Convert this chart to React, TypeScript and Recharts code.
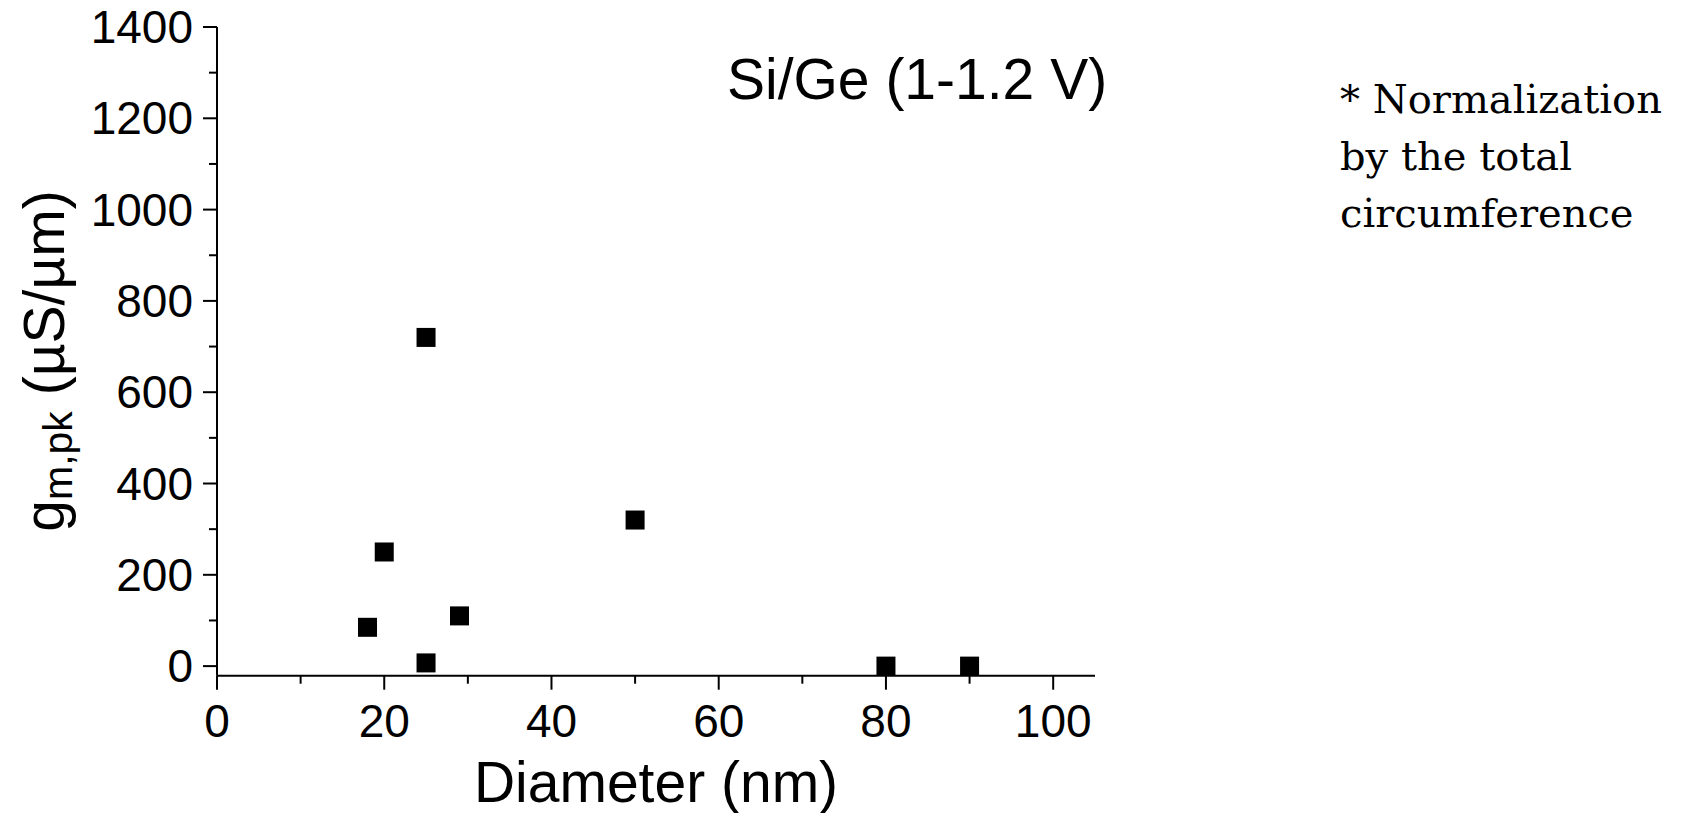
import React from "react";
import { ScatterChart, Scatter, XAxis, YAxis } from "recharts";

// ─── Data ──────────────────────────────────────────────────────────

const diameterNm = [18, 20, 25, 25, 29, 50, 80, 90];
const gmPeak = [85, 250, 720, 7, 110, 320, 0, 0];

const xTicks = [0, 10, 20, 30, 40, 50, 60, 70, 80, 90, 100];
const yTicks = [0, 100, 200, 300, 400, 500, 600, 700, 800, 900, 1000, 1100, 1200, 1300, 1400];

const titleText = "Si/Ge (1-1.2 V)";
const noteLines = ["* Normalization", "by the total", "circumference"];

const points = diameterNm.map((d, i) => ({ d, g: gmPeak[i] }));

const SANS = "'Liberation Sans', Arial, sans-serif";

// ─── Ticks (major + minor) ─────────────────────────────────────────

function YTick(props: any) {
  const { x, y, payload } = props;
  const major = payload.value % 200 === 0;
  return (
    <g>
      <line x1={x} x2={x - (major ? 14 : 8)} y1={y} y2={y} stroke="#000" strokeWidth={2} />
      {major && (
        <text x={x - 24} y={y + 16} textAnchor="end" fontFamily={SANS} fontSize={46} fill="#000">
          {payload.value}
        </text>
      )}
    </g>
  );
}

function XTick(props: any) {
  const { x, y, payload } = props;
  const major = payload.value % 20 === 0;
  return (
    <g>
      <line x1={x} x2={x} y1={y} y2={y + (major ? 14 : 8)} stroke="#000" strokeWidth={2} />
      {major && (
        <text x={x} y={y + 61} textAnchor="middle" fontFamily={SANS} fontSize={46} fill="#000">
          {payload.value}
        </text>
      )}
    </g>
  );
}

// ─── Axis titles ───────────────────────────────────────────────────

function YTitle(props: any) {
  const vb = props.viewBox || { x: 0, y: 0, width: 0, height: 0 };
  const cx = vb.x - 3;
  const cy = 361;
  return (
    <text
      x={cx}
      y={cy}
      transform={`rotate(-90, ${cx}, ${cy})`}
      textAnchor="middle"
      fontFamily={SANS}
      fontSize={57}
      fill="#000"
    >
      <tspan>g</tspan>
      <tspan fontSize={41} dy={8}>m,pk</tspan>
      <tspan dy={-8}> (µS/µm)</tspan>
    </text>
  );
}

function XTitle(props: any) {
  const vb = props.viewBox || { x: 0, y: 0, width: 0, height: 0 };
  return (
    <text
      x={vb.x + vb.width / 2}
      y={vb.y + 126}
      textAnchor="middle"
      fontFamily={SANS}
      fontSize={57}
      fill="#000"
    >
      Diameter (nm)
    </text>
  );
}

function Square(props: any) {
  const { cx, cy } = props;
  return <rect x={cx - 9.5} y={cy - 9.5} width={19} height={19} fill="#000" />;
}

// ─── App ───────────────────────────────────────────────────────────

export default function App() {
  return (
    <div style={{ position: "absolute", left: 0, top: 0, width: 1691, height: 813, background: "#fff" }}>
      <ScatterChart
        width={1691}
        height={813}
        margin={{ top: 27, right: 596, bottom: 57.3, left: 67 }}
      >
        <XAxis
          type="number"
          dataKey="d"
          domain={[0, 105]}
          ticks={xTicks}
          interval={0}
          allowDataOverflow
          height={80}
          axisLine={{ stroke: "#000", strokeWidth: 2 }}
          tickLine={false}
          tickSize={0}
          tickMargin={0}
          tick={<XTick />}
          label={<XTitle />}
        />
        <YAxis
          type="number"
          dataKey="g"
          domain={[-21, 1400]}
          ticks={yTicks}
          interval={0}
          allowDataOverflow
          width={150}
          axisLine={{ stroke: "#000", strokeWidth: 2 }}
          tickLine={false}
          tickSize={0}
          tickMargin={0}
          tick={<YTick />}
          label={<YTitle />}
        />
        <Scatter data={points} shape={<Square />} isAnimationActive={false} />
      </ScatterChart>
      <svg
        width={1691}
        height={813}
        style={{ position: "absolute", left: 0, top: 0, pointerEvents: "none" }}
      >
        <text x={727} y={99} fontFamily={SANS} fontSize={57} fill="#000">
          {titleText}
        </text>
        {noteLines.map((line, i) => (
          <text
            key={i}
            x={1340}
            y={112.7 + i * 57}
            fontFamily="'DejaVu Serif', serif"
            fontSize={40}
            fill="#000"
          >
            {line}
          </text>
        ))}
      </svg>
    </div>
  );
}
